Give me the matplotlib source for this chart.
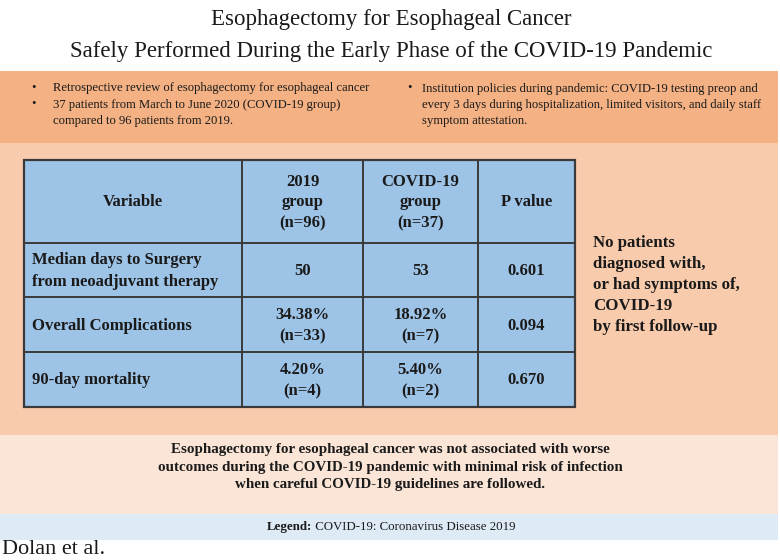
import matplotlib
matplotlib.use("Agg")
import matplotlib.pyplot as plt
from matplotlib.patches import Rectangle

# ---- content ----
title_lines = ["Esophagectomy for Esophageal Cancer",
               "Safely Performed During the Early Phase of the COVID-19 Pandemic"]
left_bullets = ["Retrospective review of esophagectomy for esophageal cancer",
                "37 patients from March to June 2020 (COVID-19 group)\ncompared to 96 patients from 2019."]
right_bullets = ["Institution policies during pandemic: COVID-19 testing preop and\n"
                 "every 3 days during hospitalization, limited visitors, and daily staff\n"
                 "symptom attestation."]
headers = ["Variable", "2019\ngroup\n(n=96)", "COVID-19\ngroup\n(n=37)", "P value"]
variables = ["Median days to Surgery\nfrom neoadjuvant therapy", "Overall Complications", "90-day mortality"]
group_2019 = ["50", "34.38%\n(n=33)", "4.20%\n(n=4)"]
group_covid = ["53", "18.92%\n(n=7)", "5.40%\n(n=2)"]
p_values = ["0.601", "0.094", "0.670"]
side_note = "No patients\ndiagnosed with,\nor had symptoms of,\nCOVID-19\nby first follow-up"
conclusion = ("Esophagectomy for esophageal cancer was not associated with worse\n"
              "outcomes during the COVID-19 pandemic with minimal risk of infection\n"
              "when careful COVID-19 guidelines are followed.")
legend_label = "Legend:"
legend_text = " COVID-19: Coronavirus Disease 2019"
author = "Dolan et al."

FONT = "Liberation Serif"
plt.rcParams['font.family'] = [FONT, 'DejaVu Serif']
TXT = "#1a1a1a"

fig = plt.figure(figsize=(7.8, 5.6), dpi=100)
ax = fig.add_axes([0, 0, 1, 1])
ax.set_xlim(0, 780)
ax.set_ylim(560, 0)
ax.axis("off")

# bands
ax.add_patch(Rectangle((0, 71), 778, 72, facecolor="#F4B183", edgecolor="none"))
ax.add_patch(Rectangle((0, 143), 778, 292, facecolor="#F8CBAD", edgecolor="none"))
ax.add_patch(Rectangle((0, 435), 778, 79, facecolor="#FBE5D6", edgecolor="none"))
ax.add_patch(Rectangle((0, 514), 778, 26, facecolor="#DEEBF7", edgecolor="none"))

# title
ax.text(391, 19, title_lines[0], ha="center", va="center", fontsize=16.5, color=TXT)
ax.text(391, 51, title_lines[1], ha="center", va="center", fontsize=16.5, color=TXT)

# bullets
bfs = 9.1
ax.text(33, 88, "•", ha="center", va="center", fontsize=bfs, color=TXT)
ax.text(53, 88, left_bullets[0], ha="left", va="center", fontsize=bfs, color=TXT)
ax.text(33, 104, "•", ha="center", va="center", fontsize=bfs, color=TXT)
ax.text(53, 113, left_bullets[1], ha="left", va="center", fontsize=bfs, color=TXT, linespacing=1.4)
ax.text(410, 88, "•", ha="center", va="center", fontsize=bfs, color=TXT)
ax.text(422, 105, right_bullets[0], ha="left", va="center", fontsize=bfs, color=TXT, linespacing=1.4)

# table
col_x = [24, 242, 363, 478, 575]
row_y = [160, 243, 297, 352, 407]
ax.add_patch(Rectangle((col_x[0], row_y[0]), col_x[-1] - col_x[0], row_y[-1] - row_y[0],
                       facecolor="#9DC3E6", edgecolor="#3a3a3a", linewidth=1.6, zorder=2))
for x in col_x[1:-1]:
    ax.plot([x, x], [row_y[0], row_y[-1]], color="#3a3a3a", lw=1.4, zorder=3)
for y in row_y[1:-1]:
    ax.plot([col_x[0], col_x[-1]], [y, y], color="#3a3a3a", lw=1.4, zorder=3)

tfs = 12
def cell_center(ci, ri):
    return (col_x[ci] + col_x[ci + 1]) / 2, (row_y[ri] + row_y[ri + 1]) / 2

for ci, h in enumerate(headers):
    cx, cy = cell_center(ci, 0)
    ax.text(cx, cy + 1, h, ha="center", va="center", fontsize=tfs, fontweight="bold",
            color=TXT, linespacing=1.38, zorder=4)

for ri in range(len(variables)):
    _, cy = cell_center(0, ri + 1)
    ax.text(col_x[0] + 8, cy + 1, variables[ri], ha="left", va="center", fontsize=tfs,
            fontweight="bold", color=TXT, linespacing=1.42, zorder=4)
    for ci, vals in zip([1, 2, 3], [group_2019, group_covid, p_values]):
        cx, _ = cell_center(ci, ri + 1)
        ax.text(cx, cy + 1, vals[ri], ha="center", va="center", fontsize=tfs,
                fontweight="bold", color=TXT, linespacing=1.42, zorder=4)

# side note
ax.text(593, 285, side_note, ha="left", va="center", fontsize=12.2, fontweight="bold",
        color=TXT, linespacing=1.41)

# conclusion
ax.text(390, 467, conclusion, ha="center", va="center", fontsize=10.8, fontweight="bold",
        color=TXT, linespacing=1.46)

# legend
t1 = ax.text(390, 527, legend_label + legend_text, ha="center", va="center",
             fontsize=9.3, color=TXT, alpha=0)
fig.canvas.draw()
inv = ax.transData.inverted()
bb = t1.get_window_extent()
x_left = inv.transform((bb.x0, bb.y0))[0]
lb = ax.text(x_left, 527, legend_label, ha="left", va="center", fontsize=9.3,
             fontweight="bold", color=TXT)
fig.canvas.draw()
lbb = lb.get_window_extent()
x_after = inv.transform((lbb.x1, lbb.y0))[0]
ax.text(x_after, 527, legend_text, ha="left", va="center", fontsize=9.3, color=TXT)

# author
ax.text(2, 550, author, ha="left", va="center", fontsize=16, color=TXT)

fig.savefig("out.png", dpi=100)
